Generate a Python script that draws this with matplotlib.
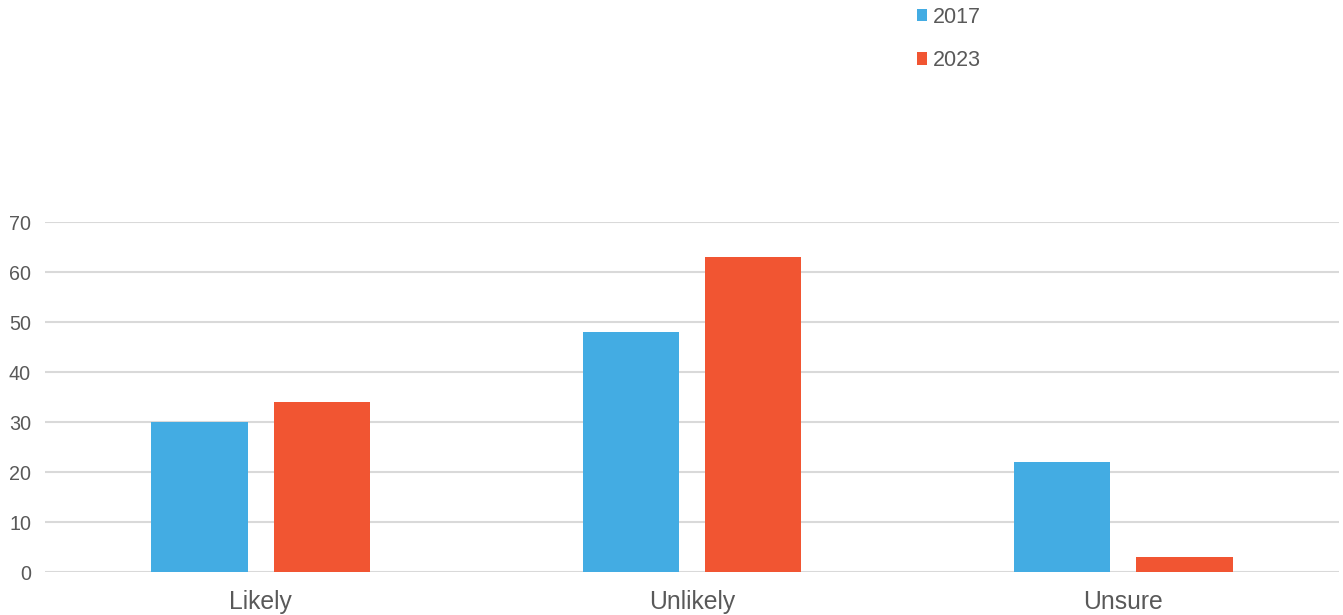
import matplotlib
matplotlib.use("Agg")
import matplotlib.pyplot as plt
import numpy as np

categories = ["Likely", "Unlikely", "Unsure"]
series_names = ["2017", "2023"]
values_2017 = [30, 48, 22]
values_2023 = [34, 63, 3]
yticks = [0, 10, 20, 30, 40, 50, 60, 70]

colors = ["#43ACE3", "#F15532"]
text_color = "#595959"

plt.rcParams['font.family'] = ['Liberation Sans', 'DejaVu Sans']

fig = plt.figure(figsize=(13.43, 6.15), dpi=100)
ax = fig.add_axes([45/1343, (615-572)/615, (1339-45)/1343, 350/615])

x = np.arange(len(categories))
w = 0.223
off = 0.142
ax.bar(x - off, values_2017, width=w, color=colors[0], label=series_names[0], zorder=3)
ax.bar(x + off, values_2023, width=w, color=colors[1], label=series_names[1], zorder=3)

ax.set_xlim(-0.5, len(categories) - 0.5)
ax.set_ylim(0, 70)
ax.set_yticks(yticks)
ax.set_xticks(x)
ax.set_xticklabels(categories, fontsize=17.8, color=text_color)
ax.tick_params(axis='y', labelsize=14.2, colors=text_color, length=0, pad=10)
ax.tick_params(axis='x', length=0, pad=13)
ax.grid(axis='y', color='#D9D9D9', linewidth=1.5, zorder=0)
for s in ax.spines.values():
    s.set_visible(False)

leg = fig.legend(loc='upper left', bbox_to_anchor=(908/1343, 1.0 + 2/615), frameon=False,
                 fontsize=15.5, handlelength=0.5, handleheight=0.5, handletextpad=0.25,
                 labelspacing=1.05, borderaxespad=0)
for t in leg.get_texts():
    t.set_color(text_color)

fig.savefig("out.png", dpi=100)
